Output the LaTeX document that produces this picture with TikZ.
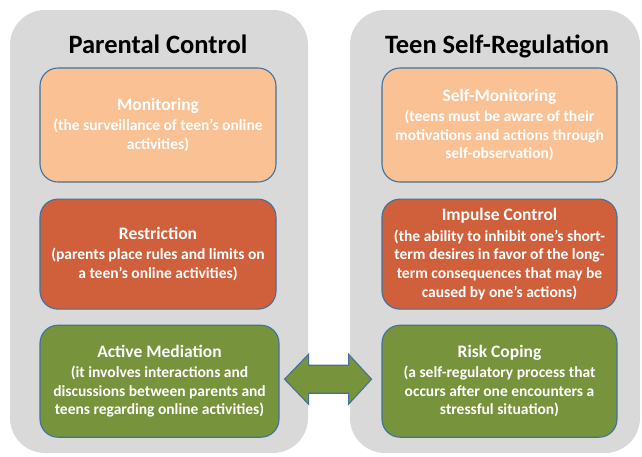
\documentclass[tikz,border=0pt]{standalone}
\usepackage{fontspec}
\setmainfont{Carlito}
\usetikzlibrary{positioning}
\tikzset{>=latex}

\definecolor{panelgray}{HTML}{D9D9D9}
\definecolor{lightorange}{HTML}{F9C194}
\definecolor{redorange}{HTML}{D0603C}
\definecolor{olivegreen}{HTML}{77933C}
\definecolor{cardborder}{HTML}{41719C}

\tikzset{
  panel/.style={fill=panelgray, rounded corners=35pt},
  heading/.style={font=\bfseries\fontsize{26.5}{30}\selectfont, anchor=base},
  card/.style={draw=cardborder, line width=1.1pt, rounded corners=18pt,
    text=white, align=center, inner sep=0pt,
    font=\bfseries\fontsize{15.5}{18.7}\selectfont},
  bigarrow/.style={draw=cardborder, line width=1.1pt, fill=olivegreen},
}
\newcommand{\cardhead}[1]{{\fontsize{17.5}{18.7}\selectfont #1}\\[1.5pt]}

\begin{document}
\begin{tikzpicture}[x=1pt, y=-1pt]
	%\draw[help lines] (0,0) grid (642,456);
	\useasboundingbox (0,0) rectangle (642,456);
	\fill[panel] (10,10) rectangle (308,453);
	\fill[panel] (350,10) rectangle (640,453);
	\node[heading] (ptitle) at (158,53) {Parental Control};
	\node[heading] (ttitle) at (497,53) {Teen Self-Regulation};

	\node[card, fill=lightorange, minimum width=236pt, minimum height=114pt] (mon) at (158,125)
		{\cardhead{Monitoring}(the surveillance of teen’s online\\activities)};
	\node[card, fill=redorange, minimum width=236pt, minimum height=110pt, below=16pt of mon] (res)
		{\cardhead{Restriction}(parents place rules and limits on\\a teen’s online activities)};
	\node[card, fill=olivegreen, minimum width=239pt, minimum height=112pt, below=15pt of res.south west, anchor=north west] (med)
		{\cardhead{Active Mediation}(it involves interactions and\\discussions between parents and\\teens regarding online activities)};

	\node[card, fill=lightorange, minimum width=235pt, minimum height=114pt] (smon) at (499.5,125)
		{\cardhead{Self-Monitoring}(teens must be aware of their\\motivations and actions through\\self-observation)};
	\node[card, fill=redorange, minimum width=235pt, minimum height=110pt, below=16pt of smon] (imp)
		{\cardhead{Impulse Control}(the ability to inhibit one’s short-\\term desires in favor of the long-\\term consequences that may be\\caused by one’s actions)};
	\node[card, fill=olivegreen, minimum width=235pt, minimum height=112pt, below=15pt of imp] (cop)
		{\cardhead{Risk Coping}(a self-regulatory process that\\occurs after one encounters a\\stressful situation)};

	\coordinate (tipl) at ([xshift=5pt, yshift=2pt]med.east);
	\draw[bigarrow] (tipl) -- ++(24,-25) -- ++(0,11) -- ++(40,0) -- ++(0,-11) -- ++(23,25)
		-- ++(-23,25) -- ++(0,-11) -- ++(-40,0) -- ++(0,11) -- cycle;
\end{tikzpicture}
\end{document}
